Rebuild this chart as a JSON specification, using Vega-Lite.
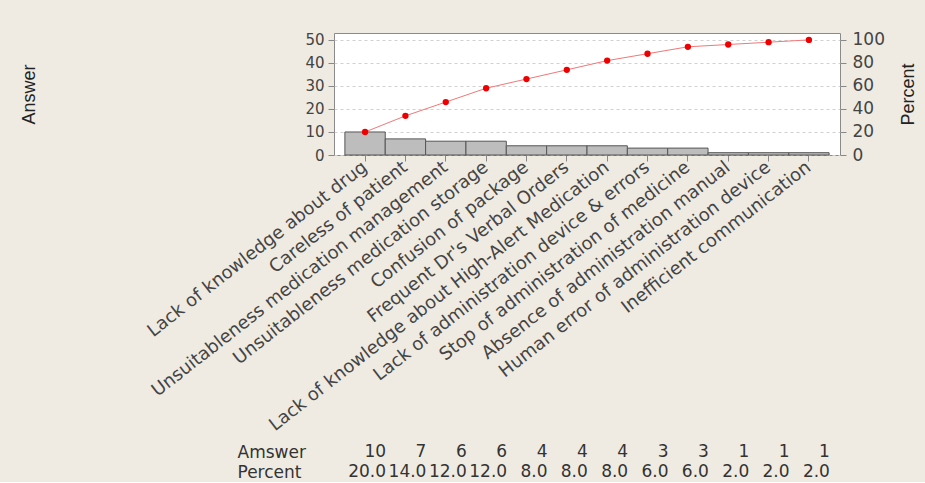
{
  "$schema": "https://vega.github.io/schema/vega-lite/v6.json",
  "background": "#EFEBE2",
  "padding": {"left": 20, "top": 30, "right": 10, "bottom": 0},
  "config": {
    "font": "DejaVu Sans",
    "view": {"stroke": "#8a8a8a", "fill": "white"},
    "axis": {
      "labelFont": "DejaVu Sans",
      "labelColor": "#444",
      "tickColor": "#888",
      "domainColor": "#888",
      "titleFont": "Liberation Sans",
      "titleFontWeight": "normal",
      "titleFontSize": 18,
      "titleColor": "#222"
    }
  },
  "datasets": {
    "pareto": [
      {"cause": "Lack of knowledge about drug", "count": 10, "pct": 20.0, "cumpct": 20},
      {"cause": "Careless of patient", "count": 7, "pct": 14.0, "cumpct": 34},
      {"cause": "Unsuitableness medication management", "count": 6, "pct": 12.0, "cumpct": 46},
      {"cause": "Unsuitableness medication storage", "count": 6, "pct": 12.0, "cumpct": 58},
      {"cause": "Confusion of package", "count": 4, "pct": 8.0, "cumpct": 66},
      {"cause": "Frequent Dr's Verbal Orders", "count": 4, "pct": 8.0, "cumpct": 74},
      {"cause": "Lack of knowledge about High-Alert Medication", "count": 4, "pct": 8.0, "cumpct": 82},
      {"cause": "Lack of administration device  & errors", "count": 3, "pct": 6.0, "cumpct": 88},
      {"cause": "Stop of administration of medicine", "count": 3, "pct": 6.0, "cumpct": 94},
      {"cause": "Absence of  administration manual", "count": 1, "pct": 2.0, "cumpct": 96},
      {"cause": "Human error of administration device", "count": 1, "pct": 2.0, "cumpct": 98},
      {"cause": "Inefficient communication", "count": 1, "pct": 2.0, "cumpct": 100}
    ]
  },
  "resolve": {"scale": {"x": "independent", "y": "independent"}},
  "spacing": 7,
  "vconcat": [
    {
      "width": 506,
      "height": 122,
      "data": {"name": "pareto"},
      "encoding": {
        "x": {
          "field": "cause",
          "type": "nominal",
          "sort": null,
          "scale": {"type": "band", "paddingInner": 0, "paddingOuter": 0.27},
          "axis": {
            "title": null,
            "labelAngle": -38,
            "labelAlign": "right",
            "labelBaseline": "middle",
            "labelFontSize": 18,
            "labelLimit": 600,
            "labelPadding": 4,
            "tickSize": 6,
            "domain": false
          }
        }
      },
      "layer": [
        {
          "mark": {"type": "bar", "fill": "#BDBDBD", "stroke": "#555", "strokeWidth": 1},
          "encoding": {
            "y": {
              "field": "count",
              "type": "quantitative",
              "scale": {"domain": [0, 53], "nice": false},
              "axis": {
                "title": "Answer",
                "titlePadding": 266,
                "values": [0, 10, 20, 30, 40, 50],
                "labelFontSize": 15,
                "tickSize": 6,
                "labelPadding": 4,
                "domain": false,
                "grid": true,
                "gridColor": "#d0d0d0",
                "gridDash": [3, 3]
              }
            }
          }
        },
        {
          "encoding": {
            "y": {
              "field": "cumpct",
              "type": "quantitative",
              "scale": {"domain": [0, 106], "nice": false},
              "axis": {
                "orient": "right",
                "title": "Percent",
                "titleAngle": -90,
                "titlePadding": 33,
                "values": [0, 20, 40, 60, 80, 100],
                "labelFontSize": 17,
                "tickSize": 6,
                "labelPadding": 6,
                "domain": false,
                "grid": false
              }
            }
          },
          "layer": [
            {"mark": {"type": "line", "color": "#F07878", "strokeWidth": 1}},
            {"mark": {"type": "point", "filled": true, "color": "#EE0000", "size": 40, "opacity": 1}}
          ]
        }
      ],
      "resolve": {"scale": {"y": "independent"}}
    },
    {
      "width": 506,
      "height": 40,
      "view": {"stroke": null, "fill": null},
      "data": {"name": "pareto"},
      "encoding": {
        "x": {
          "field": "cause",
          "type": "nominal",
          "sort": null,
          "scale": {"type": "band", "paddingInner": 0, "paddingOuter": 0.27},
          "axis": null
        }
      },
      "layer": [
        {
          "mark": {"type": "text", "align": "right", "baseline": "middle", "dx": 21, "fontSize": 17, "color": "#333"},
          "encoding": {
            "y": {
              "datum": "Amswer",
              "type": "nominal",
              "scale": {"type": "point", "domain": ["Amswer", "Percent"], "padding": 0.5},
              "axis": {
                "title": null,
                "ticks": false,
                "domain": false,
                "labelAlign": "left",
                "labelPadding": 97,
                "labelFontSize": 17,
                "labelColor": "#333"
              }
            },
            "text": {"field": "count", "type": "quantitative"}
          }
        },
        {
          "mark": {"type": "text", "align": "right", "baseline": "middle", "dx": 21, "fontSize": 17, "color": "#333"},
          "encoding": {
            "y": {"datum": "Percent", "type": "nominal"},
            "text": {"field": "pct", "type": "quantitative", "format": ".1f"}
          }
        }
      ]
    }
  ]
}
